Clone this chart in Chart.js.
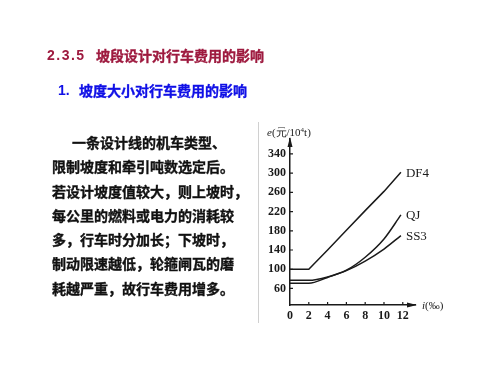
<!DOCTYPE html>
<html><head><meta charset="utf-8">
<script src="https://cdn.jsdelivr.net/npm/chart.js@4.4.1/dist/chart.umd.min.js"></script>
<style>
html,body{margin:0;padding:0;background:#fff;}
#wrap{position:relative;width:500px;height:375px;overflow:hidden;}
#cv{position:absolute;left:0;top:0;}
.t{position:absolute;white-space:pre;font-weight:bold;font-family:"Liberation Sans","Noto Sans CJK SC",sans-serif;}
.cjk{font-family:"Noto Sans CJK SC",sans-serif;-webkit-text-stroke:0.35px currentColor;}
</style></head>
<body><div id="wrap">
<canvas id="cv" width="500" height="375"></canvas>
<div class="t" style="left:47px;top:46px;font-size:14px;color:#9E1A3F;line-height:18px;letter-spacing:1.5px;">2.3.5</div>
<div class="t cjk" style="left:96px;top:45px;font-size:14px;color:#9E1A3F;line-height:20px;">坡段设计对行车费用的影响</div>
<div class="t" style="left:58px;top:81px;font-size:14px;color:#1010E6;line-height:18px;">1.</div>
<div class="t cjk" style="left:79px;top:80px;font-size:14px;color:#1010E6;line-height:20px;">坡度大小对行车费用的影响</div>
<div class="t cjk" style="left:52px;top:130px;font-size:14px;color:#111;line-height:24.3px;"><span style="padding-left:20px">一条设计线的机车类型、</span>
限制坡度和牵引吨数选定后。
若设计坡度值较大，则上坡时，
每公里的燃料或电力的消耗较
多，行车时分加长；下坡时，
制动限速越低，轮箍闸瓦的磨
耗越严重，故行车费用增多。</div>
<div style="position:absolute;left:258px;top:122px;width:1px;height:201px;background:#d0d0d0;"></div>
</div>
<script>
// grade i (‰)
const grade = [0, 2, 4, 6, 8, 10, 11.8];
// cost e (元/10^4 t)
const df4 = [100, 100, 140, 181, 222, 262, 302];
const qj  = [77, 77, 84, 98, 125, 163, 213];
const ss3 = [71, 71, 83, 97, 117, 142, 170];
const seriesNames = ['DF4', 'QJ', 'SS3'];
const xTicks = [0, 2, 4, 6, 8, 10, 12];
const yTicks = [60, 100, 140, 180, 220, 260, 300, 340];

const toPts = arr => arr.map((v, i) => ({x: grade[i], y: v}));
const ink = '#1a1a1a';
const serif = '"Liberation Serif","DejaVu Serif",serif';

const deco = {
  id: 'deco',
  afterDraw(chart) {
    const ctx = chart.ctx, xs = chart.scales.x, ys = chart.scales.y;
    const x0 = xs.getPixelForValue(0), y0 = ys.bottom;
    ctx.save();
    ctx.strokeStyle = ink; ctx.fillStyle = ink; ctx.lineWidth = 1.2;
    // inward tick marks
    ctx.beginPath();
    xTicks.forEach(v => { if (v === 0) return; const p = xs.getPixelForValue(v); ctx.moveTo(p, y0); ctx.lineTo(p, y0 - 3); });
    yTicks.forEach(v => { const p = ys.getPixelForValue(v); ctx.moveTo(x0, p); ctx.lineTo(x0 + 3, p); });
    ctx.stroke();
    // arrows
    const top = ys.top, right = xs.right;
    ctx.beginPath(); ctx.moveTo(x0, top - 2); ctx.lineTo(x0 - 2.5, top + 8); ctx.lineTo(x0 + 2.5, top + 8); ctx.closePath(); ctx.fill();
    ctx.beginPath(); ctx.moveTo(right + 2, y0); ctx.lineTo(right - 8, y0 - 2.5); ctx.lineTo(right - 8, y0 + 2.5); ctx.closePath(); ctx.fill();
    // series labels at line ends
    ctx.font = '13px ' + serif; ctx.textBaseline = 'middle'; ctx.textAlign = 'left';
    chart.data.datasets.forEach((ds, i) => {
      const meta = chart.getDatasetMeta(i);
      const last = meta.data[meta.data.length - 1];
      ctx.fillText(seriesNames[i], last.x + 5, last.y + 1);
    });
    // axis titles
    ctx.font = 'italic 11px ' + serif;
    ctx.fillText('e', x0 - 23, top - 6);
    let tx = x0 - 23 + ctx.measureText('e').width;
    ctx.font = '11px ' + serif;
    ctx.fillText('(元/10', tx, top - 6);
    tx += ctx.measureText('(元/10').width;
    ctx.font = '7px ' + serif;
    ctx.fillText('4', tx, top - 9);
    tx += ctx.measureText('4').width;
    ctx.font = '11px ' + serif;
    ctx.fillText('t)', tx, top - 6);
    ctx.font = 'italic 11px ' + serif;
    ctx.fillText('i', right + 7, y0 + 1);
    let ix = right + 7 + ctx.measureText('i').width;
    ctx.font = '11px ' + serif;
    ctx.fillText('(‰)', ix, y0 + 1);
    ctx.restore();
  }
};

new Chart(document.getElementById('cv'), {
  type: 'line',
  data: {
    datasets: [
      {label: seriesNames[0], data: toPts(df4), tension: 0},
      {label: seriesNames[1], data: toPts(qj), cubicInterpolationMode: 'monotone'},
      {label: seriesNames[2], data: toPts(ss3), cubicInterpolationMode: 'monotone'}
    ].map(d => Object.assign({borderColor: ink, borderWidth: 1.5, pointRadius: 0, fill: false}, d))
  },
  options: {
    responsive: false, animation: false,
    layout: {padding: {left: 250, top: 139, right: 85, bottom: 50}},
    plugins: {legend: {display: false}, tooltip: {enabled: false}},
    scales: {
      x: {
        type: 'linear', min: 0, max: 13.3,
        afterBuildTicks: s => { s.ticks = xTicks.map(v => ({value: v})); },
        afterFit: s => { s.height = 20; },
        grid: {display: true, drawOnChartArea: false, drawTicks: false},
        border: {display: true, color: ink, width: 1.5},
        ticks: {color: ink, padding: 4, maxRotation: 0, autoSkip: false,
                font: {family: serif, size: 12, weight: 'bold'}}
      },
      y: {
        type: 'linear', min: 25.6, max: 371,
        afterBuildTicks: s => { s.ticks = yTicks.map(v => ({value: v})); },
        afterFit: s => { s.width = 40; },
        grid: {display: true, drawOnChartArea: false, drawTicks: false},
        border: {display: true, color: ink, width: 1.5},
        ticks: {color: ink, padding: 4, font: {family: serif, size: 12, weight: 'bold'}}
      }
    }
  },
  plugins: [deco]
});
</script>
</body></html>
